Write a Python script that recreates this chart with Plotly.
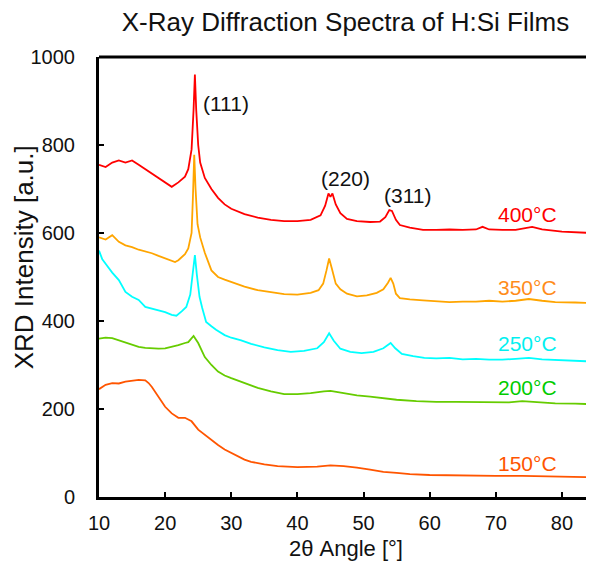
import plotly.graph_objects as go

# ---- data ----
angle_400 = [10, 11, 12, 13, 14, 15, 16, 17, 18, 19, 20, 21, 22, 23, 23.5, 24, 24.3, 24.5, 24.7, 25, 25.3, 25.7, 26, 27, 28, 29, 30, 32, 34, 36, 38, 40, 42, 43.5, 44.2, 44.7, 45.0, 45.3, 45.8, 46.5, 47.5, 49, 51, 52.5, 53.3, 53.9, 54.3, 54.9, 55.5, 57, 59, 61, 63, 65, 67, 68, 69, 71, 73, 75.5, 77, 80, 82, 84.5]
int_400 = [755, 750, 760, 765, 760, 765, 755, 745, 736, 725, 714, 705, 715, 728, 745, 790, 880, 960, 880, 800, 760, 740, 725, 700, 680, 665, 655, 643, 635, 630, 627, 627, 630, 640, 662, 690, 682, 690, 665, 645, 632, 627, 625, 626, 636, 652, 650, 630, 618, 612, 607, 607, 608, 607, 608, 614, 608, 607, 607, 614, 608, 603, 602, 600]

angle_350 = [10, 11, 12, 13, 14, 15, 16, 17, 18, 19, 20, 21, 21.5, 22, 23, 23.5, 24, 24.2, 24.4, 24.6, 24.9, 25.3, 26, 27, 28, 29, 30, 32, 34, 36, 38, 40, 42, 43.2, 43.9, 44.4, 44.8, 45.2, 45.8, 46.5, 47.5, 49, 50.5, 52, 53, 53.7, 54.1, 54.5, 54.9, 55.5, 57, 59, 61, 63, 65, 67, 69, 71, 73, 75, 77, 79, 82, 84.5]
int_350 = [590, 585, 595, 580, 572, 568, 562, 558, 554, 548, 543, 537, 534, 538, 552, 565, 600, 680, 778, 700, 620, 590, 555, 515, 500, 494, 489, 478, 470, 465, 461, 460, 464, 470, 485, 515, 542, 520, 485, 472, 462, 456, 458, 464, 472, 487, 498, 485, 462, 452, 449, 447, 445, 443, 444, 444, 446, 444, 446, 450, 446, 443, 442, 441]

angle_250 = [10, 10.5, 11, 12, 13, 14, 15, 16, 17, 18, 19, 20, 21, 21.7, 22.5, 23.2, 23.8, 24.2, 24.5, 24.8, 25.2, 25.6, 26.2, 27, 27.7, 29, 30, 31.5, 33, 35, 37, 39, 41, 43, 44, 44.8, 45.5, 46.5, 48, 49.7, 51.5, 53, 54.1, 54.8, 55.8, 57.5, 59.2, 61, 63, 65, 67, 69, 71, 73, 75, 77, 80, 82, 84.5]
int_250 = [560, 540, 530, 510, 493, 466, 455, 448, 432, 428, 424, 420, 414, 412, 422, 432, 460, 510, 550, 505, 455, 430, 398, 388, 380, 368, 362, 356, 348, 340, 334, 330, 332, 338, 352, 372, 355, 337, 330, 327, 330, 338, 350, 338, 325, 320, 316, 315, 316, 313, 314, 312, 312, 314, 316, 313, 311, 310, 308]

angle_200 = [10, 11, 12, 13, 14, 15, 16, 17, 18, 19, 20, 21, 22, 23, 23.5, 24.3, 25, 26, 27, 28, 29, 30, 32, 34, 36, 38, 40, 42, 44, 45, 47, 49, 51, 53, 55, 58, 61, 64, 67, 70, 72, 74, 76, 79, 82, 84.5]
int_200 = [360, 362, 361, 356, 352, 346, 341, 339, 338, 337, 338, 341, 345, 350, 352, 366, 350, 318, 300, 285, 276, 270, 259, 248, 240, 234, 234, 236, 240, 241, 236, 231, 228, 224, 221, 218, 216, 216, 215, 214, 215, 218, 216, 213, 212, 211]

angle_150 = [10, 11, 12, 13, 14, 15, 16, 17, 17.5, 18, 19, 20, 21, 22, 23, 24, 25, 26, 27, 28, 29, 30, 31, 32, 33, 35, 37, 40, 43, 45, 47, 49, 51, 53, 55, 57, 60, 63, 66, 70, 74, 78, 82, 84.5]
int_150 = [245, 255, 259, 258, 262, 264, 266, 265, 259, 250, 228, 205, 190, 180, 180, 172, 153, 141, 128, 118, 108, 100, 92, 85, 80, 74, 70, 68, 69, 72, 70, 67, 62, 57, 55, 52, 50, 49, 48, 48, 48, 47, 46, 45]

series_names = ["400°C", "350°C", "250°C", "200°C", "150°C"]
line_colors = ["#FF0000", "#FFA500", "#00FFFF", "#66CC00", "#FF5500"]
label_colors = ["#FF0000", "#FF8C1A", "#00F0F0", "#00CC00", "#FF5500"]
label_x = [79.5, 79.5, 79.5, 79.5, 79.5]
label_y = [643, 477, 350, 248, 77]

peak_labels = ["(111)", "(220)", "(311)"]
peak_x = [29.2, 47.2, 56.7]
peak_y = [895, 725, 686]

x_ticks = [10, 20, 30, 40, 50, 60, 70, 80]
y_ticks = [0, 200, 400, 600, 800, 1000]

FONT = "Liberation Sans, Arial, sans-serif"
INK = "#111111"

fig = go.Figure()
xs = [angle_400, angle_350, angle_250, angle_200, angle_150]
ys = [int_400, int_350, int_250, int_200, int_150]
for name, xv, yv, col in zip(series_names, xs, ys, line_colors):
    fig.add_trace(go.Scatter(x=xv, y=yv, mode="lines", name=name,
                             line=dict(color=col, width=1.8), showlegend=False))

for txt, xv, yv, col in zip(series_names, label_x, label_y, label_colors):
    fig.add_annotation(x=xv, y=yv, text=txt, showarrow=False, xanchor="right",
                       yanchor="middle", font=dict(family=FONT, size=21, color=col))

for txt, xv, yv in zip(peak_labels, peak_x, peak_y):
    fig.add_annotation(x=xv, y=yv, text=txt, showarrow=False, xanchor="center",
                       yanchor="middle", font=dict(family=FONT, size=21, color=INK))

# axis titles as annotations
fig.add_annotation(xref="paper", yref="paper", x=0.5, y=-0.118, text="2θ Angle [°]",
                   showarrow=False, xanchor="center", yanchor="middle",
                   font=dict(family=FONT, size=22, color=INK))
fig.add_annotation(xref="paper", yref="paper", x=-0.152, y=0.545, text="XRD Intensity [a.u.]",
                   textangle=-90, showarrow=False, xanchor="center", yanchor="middle",
                   font=dict(family=FONT, size=26, color=INK))

# right border (thin grey) and top frame line
fig.add_shape(type="line", xref="paper", yref="paper", x0=1, x1=1, y0=0, y1=1,
              line=dict(color="#888888", width=1))
fig.add_shape(type="line", xref="paper", yref="paper", x0=0, x1=1, y0=1, y1=1,
              line=dict(color="black", width=3))

# page body has an 8px margin, so the figure is 8px smaller and offsets are shifted
fig.update_layout(
    width=586, height=556,
    margin=dict(l=91, r=2, t=49, b=67),
    paper_bgcolor="white", plot_bgcolor="white",
    title=dict(text="X-Ray Diffraction Spectra of H:Si Films", x=0.5, xref="paper",
               xanchor="center", y=1 - 14 / 556, yref="container", yanchor="middle",
               font=dict(family=FONT, size=26, color=INK)),
    font=dict(family=FONT, color=INK),
)
fig.update_xaxes(range=[10, 84.55], tickvals=x_ticks, ticks="inside", ticklen=5, tickwidth=2,
                 tickcolor="black", showline=True, linecolor="black", linewidth=3,
                 showgrid=False, zeroline=False, ticklabelstandoff=6,
                 tickfont=dict(family=FONT, size=20, color=INK))
fig.update_yaxes(range=[0, 1000], tickvals=y_ticks, ticks="inside", ticklen=5, tickwidth=2,
                 tickcolor="black", showline=True, linecolor="black", linewidth=3,
                 showgrid=False, zeroline=False, ticklabelstandoff=17,
                 tickfont=dict(family=FONT, size=20, color=INK))

fig.write_html("out.html")
